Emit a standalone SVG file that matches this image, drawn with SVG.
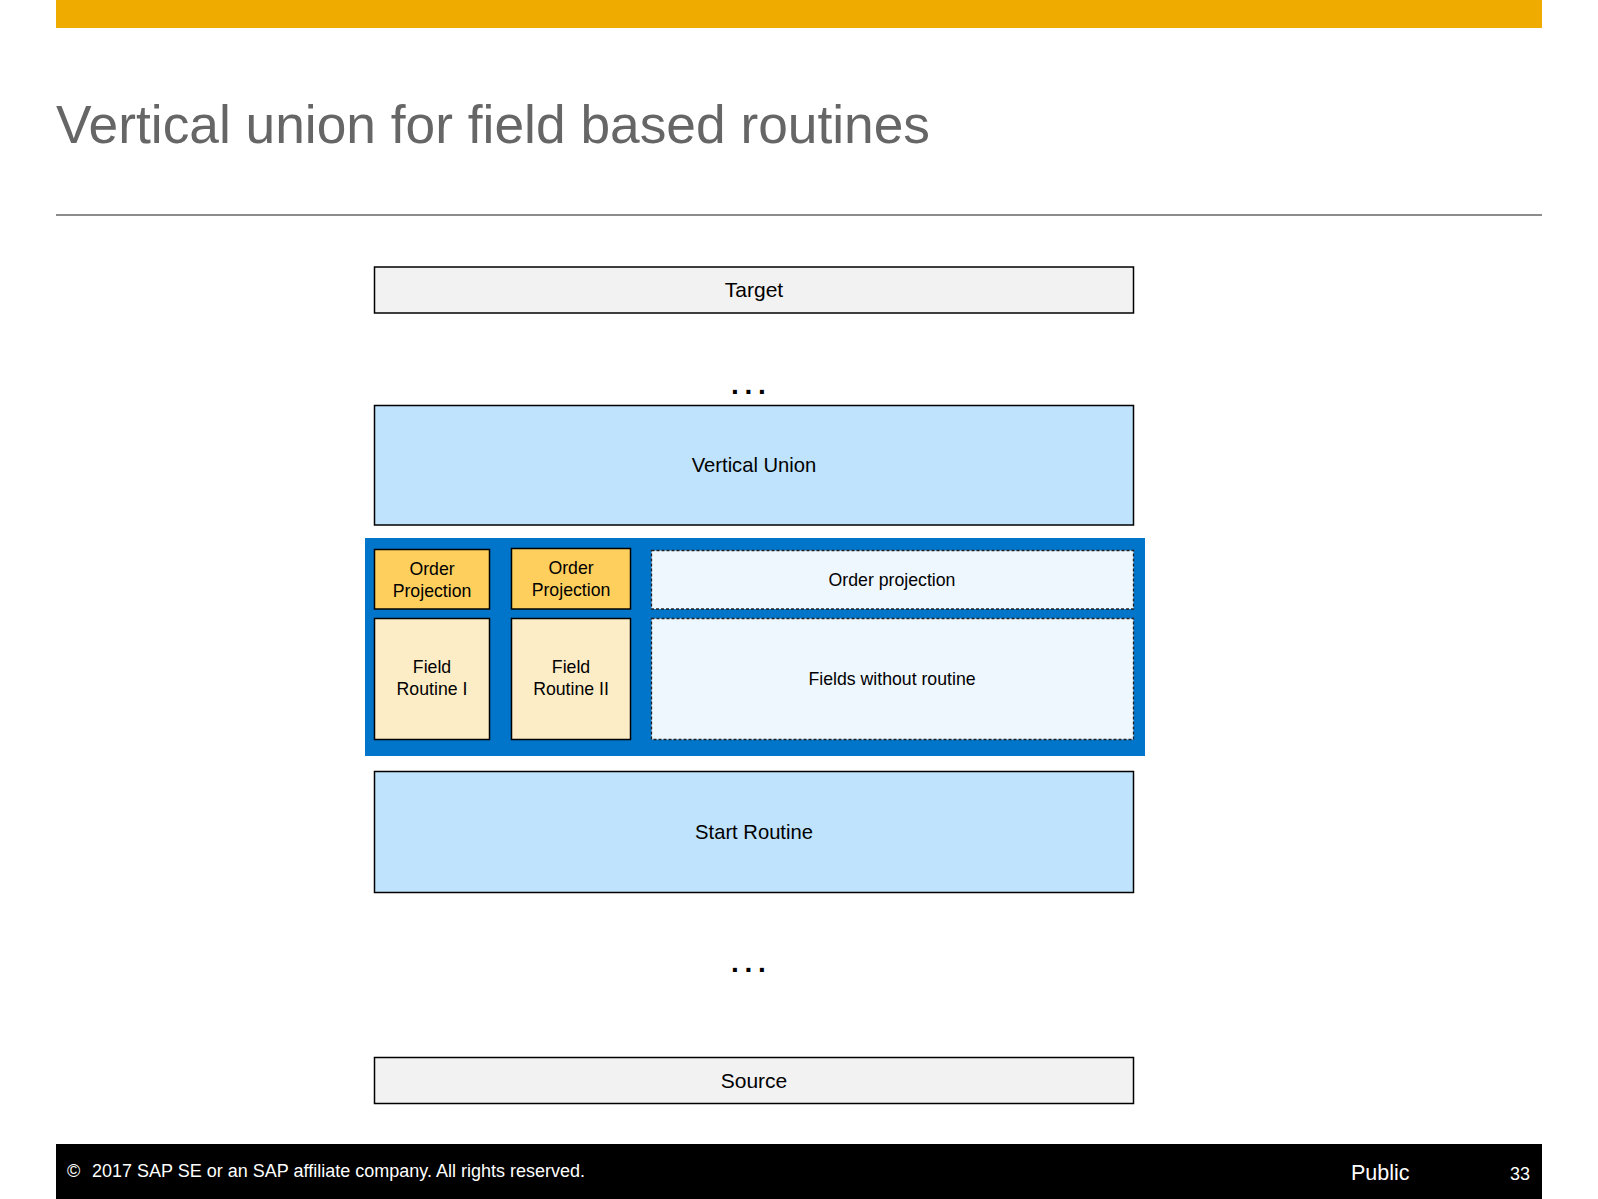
<svg xmlns="http://www.w3.org/2000/svg" width="1598" height="1199" viewBox="0 0 1598 1199">
<style>
text{font-family:"Liberation Sans",Arial,sans-serif;fill:#000}
.box{stroke:#000;stroke-width:1.5}
.gray{fill:#f2f2f2}
.lblue{fill:#bfe3fd}
.op{fill:#fecf5d}
.fr{fill:#fdedc7}
.dash{fill:#eef6fe;stroke:#222;stroke-width:1.3;stroke-dasharray:3 2}
.lbl{font-size:20.2px;text-anchor:middle}
.sm{font-size:17.7px;text-anchor:middle}
.dots{font-size:28px;font-weight:bold;letter-spacing:5.7px}
.ft{fill:#fff}
</style>
<rect x="0" y="0" width="1598" height="1199" fill="#fff"/>
<rect x="56" y="0" width="1486" height="28" fill="#f0ab00"/>
<text x="56" y="143" style="font-size:53.3px;fill:#666">Vertical union for field based routines</text>
<line x1="56" y1="215" x2="1542" y2="215" stroke="#666" stroke-width="1.5"/>
<g id="connectors"></g>
<g id="target"><rect class="box gray" x="374.5" y="267" width="759" height="46"/><text class="lbl" x="754" y="297" style="font-size:21px">Target</text></g>
<g id="dots-top"><text class="dots" x="731" y="394">...</text></g>
<g id="vertical-union"><rect class="box lblue" x="374.5" y="405.5" width="759" height="119.5"/><text class="lbl" x="754" y="472">Vertical Union</text></g>
<g id="container"><rect x="365" y="538" width="780" height="218" fill="#0075c9"/></g>
<g id="order-projection-1"><rect class="box op" x="374.5" y="549.5" width="115" height="59.5"/><text class="sm" x="432" y="575">Order</text><text class="sm" x="432" y="597">Projection</text></g>
<g id="order-projection-2"><rect class="box op" x="511.5" y="548.5" width="119" height="60.5"/><text class="sm" x="571" y="574">Order</text><text class="sm" x="571" y="596">Projection</text></g>
<g id="order-projection-3"><rect class="dash" x="651.5" y="550.5" width="482" height="58.5"/><text class="sm" x="892" y="586">Order projection</text></g>
<g id="field-routine-1"><rect class="box fr" x="374.5" y="618.5" width="115" height="121"/><text class="sm" x="432" y="673">Field</text><text class="sm" x="432" y="695">Routine I</text></g>
<g id="field-routine-2"><rect class="box fr" x="511.5" y="618.5" width="119" height="121"/><text class="sm" x="571" y="673">Field</text><text class="sm" x="571" y="695">Routine II</text></g>
<g id="fields-without-routine"><rect class="dash" x="651.5" y="618.5" width="482" height="121"/><text class="sm" x="892" y="685">Fields without routine</text></g>
<g id="start-routine"><rect class="box lblue" x="374.5" y="771.5" width="759" height="121"/><text class="lbl" x="754" y="839">Start Routine</text></g>
<g id="dots-bottom"><text class="dots" x="731" y="972">...</text></g>
<g id="source"><rect class="box gray" x="374.5" y="1057.5" width="759" height="46"/><text class="lbl" x="754" y="1088" style="font-size:21px">Source</text></g>
<rect x="56" y="1144" width="1486" height="55" fill="#000"/>
<text class="ft" x="67" y="1177" style="font-size:18px">©</text>
<text class="ft" x="92" y="1177" style="font-size:18px">2017 SAP SE or an SAP affiliate company. All rights reserved.</text>
<text class="ft" x="1351" y="1180" style="font-size:21.5px">Public</text>
<text class="ft" x="1510" y="1180" style="font-size:18px">33</text>
</svg>
